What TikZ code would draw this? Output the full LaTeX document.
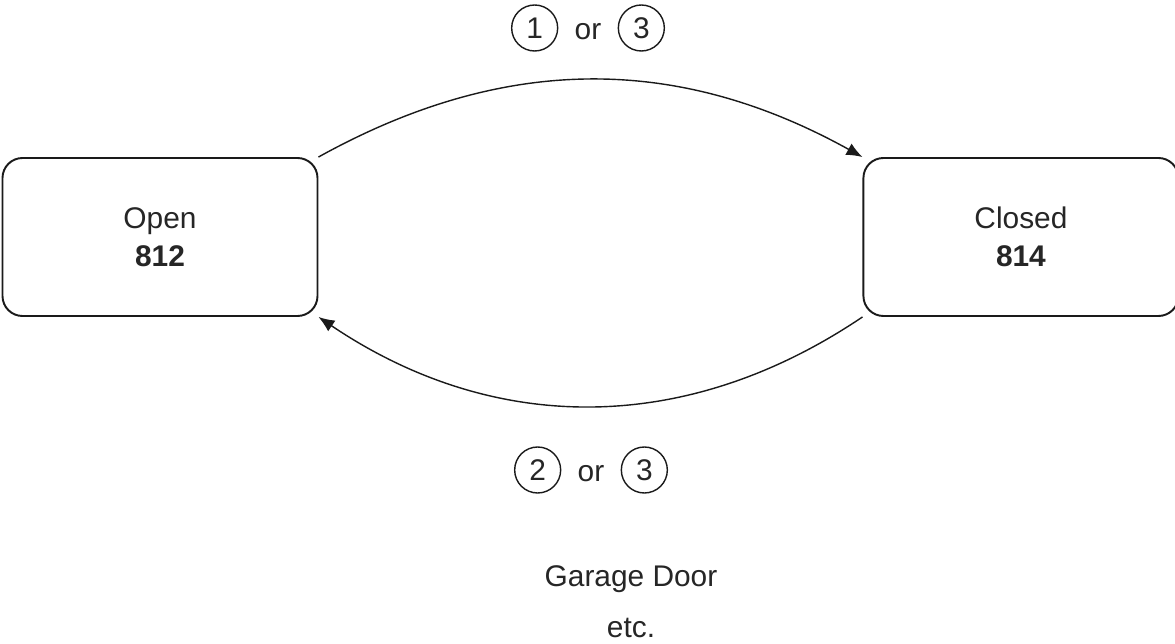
\documentclass[tikz,border=0pt]{standalone}
\usepackage{fontspec}
\setmainfont{Liberation Sans}
\usetikzlibrary{arrows.meta,positioning}
\definecolor{stateline}{HTML}{1A1A1A}
\definecolor{statetext}{HTML}{262626}

\begin{document}
\begin{tikzpicture}[
    node distance=10.88cm,
    every node/.style={font=\fontsize{17}{21.6}\selectfont, text=statetext},
    state/.style={draw=stateline, line width=1.1pt, rounded corners=0.4cm, minimum width=6.3cm, minimum height=3.16cm, align=center},
    cond/.style={draw=stateline, line width=0.8pt, circle, minimum size=0.92cm, inner sep=0pt},
    word/.style={inner sep=0pt},
    trans/.style={draw=stateline, line width=0.8pt, -{Latex[length=3.2mm,width=2.6mm]}}
  ]
    \useasboundingbox (-3.2,4.74) rectangle (20.3,-8.14);

    % States
    \node[state] (open) {Open\\\textbf{812}};
    \node[state, right=of open] (closed) {Closed\\\textbf{814}};

    % Transitions
    \draw[trans] (open.north east) to[bend left=29] (closed.north west);
    \draw[trans] (closed.south west) to[bend left=34] (open.south east);

    % Conditions on the transitions
    \node[word] (ortop) at (8.56,4.1) {or};
    \node[cond, left=0.32cm of ortop, yshift=0.08cm] (c1) {1};
    \node[cond, right=0.32cm of ortop, yshift=0.08cm] (c3top) {3};

    \node[word] (orbot) at (8.62,-4.74) {or};
    \node[cond, left=0.32cm of orbot, yshift=0.08cm] (c2) {2};
    \node[cond, right=0.32cm of orbot, yshift=0.08cm] (c3bot) {3};

    % Example
    \node[word] (garage) at (9.42,-6.84) {Garage Door};
    \node[word, below=0.5cm of garage] (etc) {etc.};
  \end{tikzpicture}
\end{document}
